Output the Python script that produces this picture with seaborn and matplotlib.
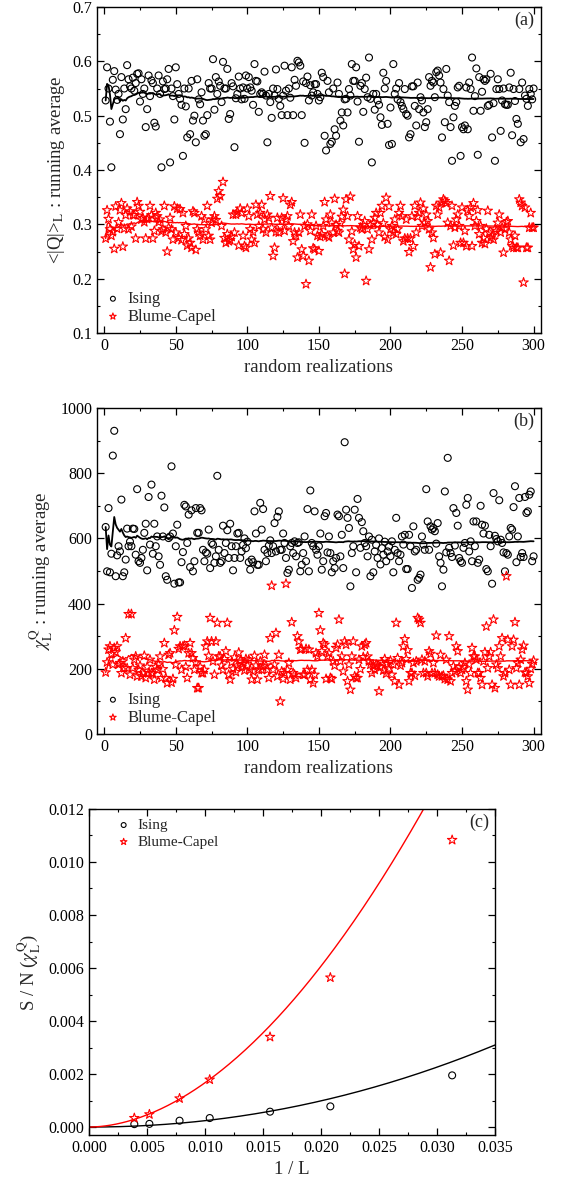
import numpy as np
import matplotlib
matplotlib.use("Agg")
import matplotlib.pyplot as plt
from matplotlib.ticker import MultipleLocator, FormatStrFormatter
import seaborn as sns

# panel (a): <|Q|>_L per random realization
ising_q = [
    0.528, 0.589, 0.55, 0.489, 0.405, 0.566, 0.582, 0.548, 0.529, 0.54,
    0.466, 0.571, 0.493, 0.550, 0.512, 0.593, 0.567, 0.554, 0.55, 0.570,
    0.546, 0.560, 0.577, 0.578, 0.526, 0.567, 0.54, 0.550, 0.479, 0.512,
    0.574, 0.536, 0.565, 0.56, 0.487, 0.480, 0.550, 0.574, 0.540, 0.405,
    0.563, 0.549, 0.55, 0.567, 0.586, 0.414, 0.550, 0.536, 0.493, 0.589,
    0.558, 0.54, 0.531, 0.520, 0.426, 0.550, 0.517, 0.460, 0.55, 0.466,
    0.564, 0.491, 0.500, 0.451, 0.567, 0.53, 0.521, 0.543, 0.491, 0.463,
    0.466, 0.501, 0.56, 0.550, 0.550, 0.604, 0.511, 0.571, 0.54, 0.563,
    0.555, 0.525, 0.599, 0.55, 0.550, 0.586, 0.494, 0.503, 0.56, 0.554,
    0.442, 0.532, 0.54, 0.572, 0.55, 0.53,
    0.552, 0.531, 0.574, 0.55, 0.571, 0.552, 0.546, 0.520, 0.595, 0.564,
    0.563, 0.507, 0.54, 0.543, 0.540, 0.581, 0.537, 0.451, 0.540, 0.525,
    0.496, 0.55, 0.537, 0.585, 0.549, 0.531, 0.518, 0.501, 0.537, 0.592,
    0.546, 0.501, 0.55, 0.533, 0.589, 0.501, 0.566, 0.555, 0.601, 0.598,
    0.592, 0.501, 0.563, 0.450, 0.56, 0.572, 0.528, 0.556, 0.537, 0.543,
    0.558, 0.558, 0.54, 0.528, 0.534, 0.579, 0.571, 0.463, 0.436, 0.564,
    0.543, 0.448, 0.452, 0.55, 0.475, 0.463, 0.561, 0.540, 0.491, 0.506,
    0.482, 0.53, 0.531, 0.506, 0.549, 0.537, 0.595, 0.564, 0.564, 0.589,
    0.526, 0.452, 0.555, 0.56, 0.507, 0.549, 0.570, 0.534, 0.607, 0.531,
    0.414, 0.54, 0.511, 0.540, 0.528, 0.520, 0.497, 0.483, 0.579, 0.55,
    0.564, 0.485, 0.446, 0.515, 0.448, 0.595, 0.54, 0.55, 0.53, 0.56,
    0.525, 0.518, 0.512, 0.549, 0.503, 0.500, 0.460, 0.466, 0.554, 0.554,
    0.518, 0.482, 0.561, 0.512, 0.534, 0.528, 0.506, 0.479, 0.488, 0.512,
    0.571, 0.555, 0.564, 0.561, 0.534, 0.580, 0.583, 0.574, 0.561, 0.460,
    0.549, 0.488, 0.586, 0.537, 0.525, 0.479, 0.417, 0.497, 0.518, 0.525,
    0.552, 0.555, 0.426, 0.479, 0.475, 0.482, 0.552, 0.475, 0.561, 0.549,
    0.607, 0.509, 0.536, 0.587, 0.428, 0.571, 0.509, 0.544, 0.567, 0.564,
    0.567, 0.518, 0.520, 0.577, 0.460, 0.523, 0.417, 0.549, 0.567, 0.549,
    0.472, 0.528, 0.550, 0.521, 0.520, 0.520, 0.552, 0.579, 0.464, 0.549,
    0.527, 0.494, 0.485, 0.549, 0.451, 0.561, 0.457, 0.537, 0.531, 0.518,
    0.549, 0.54, 0.53, 0.55,
]
bc_q = [
    0.274, 0.326, 0.310, 0.291, 0.279, 0.286, 0.255, 0.333, 0.292, 0.304,
    0.326, 0.339, 0.259, 0.292, 0.317, 0.329, 0.291, 0.324, 0.296, 0.317,
    0.317, 0.274, 0.341, 0.334, 0.323, 0.309, 0.312, 0.304, 0.274, 0.310,
    0.312, 0.334, 0.317, 0.274, 0.288, 0.321, 0.315, 0.304, 0.309, 0.287,
    0.291, 0.334, 0.285, 0.250, 0.294, 0.312, 0.291, 0.272, 0.333, 0.285,
    0.329, 0.275, 0.328, 0.271, 0.321, 0.282, 0.297, 0.261, 0.274, 0.266,
    0.257, 0.324, 0.321, 0.253, 0.291, 0.285, 0.279, 0.315, 0.272, 0.309,
    0.291, 0.334, 0.279, 0.272, 0.303, 0.309, 0.315, 0.308, 0.347, 0.361,
    0.352, 0.297, 0.378, 0.275, 0.266, 0.282, 0.269, 0.271, 0.277, 0.318,
    0.285, 0.318, 0.323, 0.261, 0.329, 0.321, 0.279, 0.260, 0.257,
    0.329, 0.315, 0.291, 0.272, 0.286, 0.266, 0.336, 0.318, 0.297, 0.321,
    0.336, 0.291, 0.309, 0.285, 0.318, 0.312, 0.352, 0.294, 0.242, 0.257,
    0.286, 0.312, 0.285, 0.297, 0.312, 0.348, 0.288, 0.309, 0.315, 0.297,
    0.336, 0.341, 0.269, 0.285, 0.279, 0.239, 0.285, 0.318, 0.254, 0.242,
    0.297, 0.190, 0.300, 0.233, 0.288, 0.318, 0.256, 0.254, 0.297, 0.279,
    0.251, 0.277, 0.282, 0.297, 0.341, 0.309, 0.279, 0.276, 0.318, 0.303,
    0.285, 0.347, 0.299, 0.288, 0.285, 0.302, 0.314, 0.327, 0.209, 0.346,
    0.315, 0.272, 0.351, 0.287, 0.254, 0.263, 0.239, 0.315, 0.260, 0.294,
    0.291, 0.299, 0.306, 0.196, 0.291, 0.254, 0.299, 0.272, 0.303, 0.312,
    0.321, 0.299, 0.285, 0.321, 0.334, 0.302, 0.277, 0.349, 0.272, 0.333,
    0.291, 0.297, 0.285, 0.309, 0.282, 0.291,
    0.321, 0.334, 0.315, 0.269, 0.274, 0.309, 0.274, 0.249, 0.274, 0.315,
    0.260, 0.334, 0.285, 0.314, 0.321, 0.340, 0.297, 0.329, 0.303, 0.318,
    0.306, 0.291, 0.221, 0.285, 0.275, 0.245, 0.334, 0.318, 0.331, 0.248,
    0.340, 0.346, 0.343, 0.339, 0.303, 0.233, 0.297, 0.334, 0.261, 0.294,
    0.309, 0.318, 0.297, 0.266, 0.331, 0.266, 0.288, 0.260, 0.326, 0.315,
    0.331, 0.260, 0.339, 0.297, 0.306, 0.326, 0.282, 0.297, 0.266, 0.275,
    0.264, 0.292, 0.325, 0.285, 0.275, 0.279, 0.272, 0.291, 0.288, 0.303,
    0.318, 0.285, 0.294, 0.248, 0.291, 0.304, 0.306, 0.285, 0.272, 0.260,
    0.257, 0.279, 0.257, 0.257, 0.346, 0.340, 0.334, 0.193, 0.331, 0.257,
    0.257, 0.294, 0.321, 0.294, 0.294,
]

# panel (b): chi_L^Q per random realization
ising_chi = [
    635, 499, 693, 496, 553, 854, 930, 484, 548, 576,
    560, 719, 484, 496, 535, 630, 576, 590, 576, 630,
    629, 550, 751, 530, 525, 540, 565, 617, 645, 502,
    727, 581, 765, 553, 645, 576, 606, 545, 519, 731,
    606, 695, 484, 473, 601, 606, 821, 615, 461, 576,
    642, 465, 465, 527, 558, 703, 698, 586, 673, 512,
    686, 499, 530, 693, 617, 617, 693, 686, 565, 530,
    557, 553, 627, 509, 586, 581, 525, 545, 792, 565,
    525, 530, 639, 555, 586, 625, 540, 645, 576, 502,
    540, 576, 615, 617, 540, 560, 580, 600, 570, 590,
    527, 504, 535, 527, 683, 615, 519, 519, 709, 627,
    690, 565, 530, 555, 578, 594, 555, 576, 647, 560,
    666, 683, 565, 565, 615, 586, 540, 494, 504, 576,
    586, 555, 591, 545, 586, 588, 499, 519, 555, 606,
    530, 690, 499, 747, 586, 576, 683, 565, 550, 576,
    615, 504, 530, 668, 678, 557, 606, 555, 496, 530,
    509, 540, 673, 668, 545, 611, 509, 895, 688, 663,
    632, 453, 555, 576, 688, 496, 721, 663, 571, 650,
    622, 586, 576, 545, 606, 484, 596, 496, 560, 580,
    540, 600, 520, 570, 550, 590, 530, 560, 575, 545,
    591, 496, 565, 663, 555, 530, 550, 606, 581, 611,
    506, 506, 611, 576, 448, 637, 560, 565, 473, 479,
    489, 606, 581, 565, 751, 652, 565, 637, 627, 632,
    622, 584, 647, 545, 525, 453, 504, 744, 557, 847,
    571, 555, 543, 693, 578, 678, 639, 540, 530, 525,
    571, 586, 703, 724, 560, 591, 530, 652, 576, 652,
    525, 535, 700, 642, 615, 639, 506, 499, 611, 576,
    461, 739, 608, 598, 591, 717, 596, 586, 557, 499,
    555, 550, 606, 632, 627, 696, 760, 527, 606, 724,
    543, 555, 543, 727, 678, 683, 734, 744, 530, 545,
]
bc_chi = [
    189, 220, 259, 269, 246, 213, 264, 251, 269, 213,
    218, 187, 223, 202, 294, 202, 368, 182, 368, 202,
    228, 238, 177, 197, 210, 177, 187, 240, 172, 206,
    187, 228, 187, 185, 167, 206, 197, 213, 238, 172,
    199, 279, 172, 156, 243, 248, 158, 169, 318, 213,
    359, 261, 269, 197, 269, 271, 206, 172, 248, 279,
    248, 233, 197, 220, 141, 141, 206, 187, 187, 197,
    269, 284, 240, 356, 284, 223, 182, 284, 341, 238,
    238, 210, 197, 230, 254, 341, 182, 167, 220, 200,
    235, 190, 210, 250, 225, 205, 215, 195, 230, 210,
    228, 197, 167, 192, 240, 210, 167, 197, 223, 197,
    208, 243, 210, 197, 172, 294, 455, 197, 213, 310,
    177, 243, 100, 192, 169, 187, 461, 197, 218, 167,
    343, 187, 182, 172, 300, 284, 259, 261, 182, 182,
    261, 197, 259, 167, 197, 156, 182, 248, 238, 371,
    318, 254, 279, 274, 169, 238, 248, 172, 169, 223,
    210, 264, 274, 351, 223, 238, 192, 284, 274, 162,
    213, 136, 238, 284, 177, 172, 172, 228, 199, 269,
    236, 274, 279, 238, 223, 213, 187, 210, 197, 213,
    208, 131, 205, 220, 195, 230, 185, 215, 200, 225,
    182, 213, 162, 341, 233, 151, 210, 218, 269, 291,
    230, 257, 162, 187, 187, 218, 179, 223, 356, 351,
    341, 228, 187, 223, 187, 177, 254, 246, 187, 218,
    187, 302, 182, 177, 243, 177, 179, 169, 228, 167,
    300, 162, 187, 208, 192, 269, 254, 205, 187, 197,
    206, 218, 162, 136, 213, 187, 264, 238, 238, 228,
    187, 187, 172, 151, 223, 251, 330, 202, 238, 251,
    151, 351, 141, 213, 202, 269, 238, 294, 177, 187,
    484, 289, 197, 151, 269, 289, 343, 202, 218, 151,
    228, 259, 271, 189, 187, 177, 156, 200, 215, 225,
]

# panel (c): signal-to-noise ratio vs 1/L
inv_L = [0.0039, 0.0052, 0.0078, 0.0104, 0.0156, 0.0208, 0.0313]
sn_ising = [0.00011, 0.00012, 0.00024, 0.00034, 0.00058, 0.00078, 0.00195]
sn_bc = [0.00034, 0.00048, 0.00108, 0.00179, 0.0034, 0.00564, 0.01083]
# power-law fits  a * (1/L)^b
fit_ising = (2.89, 2.04)
fit_bc = (8.78, 1.86)

sns.set_style("ticks")
plt.rcParams["font.family"] = ["Liberation Serif", "DejaVu Serif"]
plt.rcParams["mathtext.fontset"] = "stix"

fig = plt.figure(figsize=(5.71, 11.86), dpi=100)
ax_a = fig.add_axes([0.170, 0.7192, 0.777, 0.2749])
ax_b = fig.add_axes([0.170, 0.3811, 0.777, 0.2749])
ax_c = fig.add_axes([0.156, 0.0430, 0.711, 0.2749])

circ = dict(marker="o", s=25, facecolor="none", edgecolor="black", linewidth=0.8)
star = dict(marker="*", s=50, facecolor="none", edgecolor="red", linewidth=0.8)


def running(vals):
    v = np.asarray(vals, dtype=float)
    return np.cumsum(v) / np.arange(1, len(v) + 1)


def style_axes(ax):
    ax.tick_params(which="both", direction="in", top=True, right=True,
                   labelsize=11.5, colors="black")
    ax.tick_params(which="major", length=5, width=0.9)
    ax.tick_params(which="minor", length=2.5, width=0.8)
    for s in ax.spines.values():
        s.set_visible(True)
        s.set_linewidth(1.0)
        s.set_color("black")


for ax, ising, bc in [(ax_a, ising_q, bc_q), (ax_b, ising_chi, bc_chi)]:
    xi = np.arange(1, len(ising) + 1)
    xb = np.arange(1, len(bc) + 1)
    sns.scatterplot(x=xi, y=ising, ax=ax, label="Ising", **circ)
    sns.scatterplot(x=xb, y=bc, ax=ax, label="Blume-Capel", **star)
    sns.lineplot(x=xi, y=running(ising), ax=ax, color="black", lw=1.3,
                 estimator=None, sort=False, legend=False)
    sns.lineplot(x=xb, y=running(bc), ax=ax, color="red", lw=1.0,
                 estimator=None, sort=False, legend=False)
    ax.set_xlim(-5, 305)
    ax.xaxis.set_major_locator(MultipleLocator(50))
    ax.xaxis.set_minor_locator(MultipleLocator(25))
    ax.set_xlabel("random realizations", fontsize=13.5)
    ax.legend(loc="lower left", bbox_to_anchor=(0.0, 0.01), frameon=False,
              fontsize=12, handletextpad=0.2, handlelength=1.3,
              labelspacing=0.1, borderaxespad=0.0, borderpad=0.3,
              markerscale=0.7)
    style_axes(ax)

ax_a.set_ylim(0.1, 0.7)
ax_a.yaxis.set_major_locator(MultipleLocator(0.1))
ax_a.yaxis.set_minor_locator(MultipleLocator(0.05))
ax_a.yaxis.set_major_formatter(FormatStrFormatter("%.1f"))
ax_a.set_ylabel(r"<|Q|>$_{\mathrm{L}}$ : running average", fontsize=13.5)
ax_a.text(0.985, 0.985, "(a)", transform=ax_a.transAxes, ha="right", va="top",
          fontsize=13)

ax_b.set_ylim(0, 1000)
ax_b.yaxis.set_major_locator(MultipleLocator(200))
ax_b.yaxis.set_minor_locator(MultipleLocator(100))
ax_b.set_ylabel(r"$\chi_{\mathrm{L}}^{\mathrm{Q}}$ : running average", fontsize=13.5)
ax_b.text(0.985, 0.985, "(b)", transform=ax_b.transAxes, ha="right", va="top",
          fontsize=13)

# panel (c)
sns.scatterplot(x=inv_L, y=sn_ising, ax=ax_c, label="Ising", **circ)
sns.scatterplot(x=inv_L, y=sn_bc, ax=ax_c, label="Blume-Capel", **star)
xf = np.linspace(0, 0.035, 300)
sns.lineplot(x=xf, y=fit_ising[0] * xf ** fit_ising[1], ax=ax_c, color="black",
             lw=1.0, estimator=None, sort=False, legend=False)
sns.lineplot(x=xf, y=fit_bc[0] * xf ** fit_bc[1], ax=ax_c, color="red",
             lw=1.0, estimator=None, sort=False, legend=False)
ax_c.set_xlim(0, 0.035)
ax_c.set_ylim(-0.0003, 0.012)
ax_c.xaxis.set_major_locator(MultipleLocator(0.005))
ax_c.xaxis.set_minor_locator(MultipleLocator(0.0025))
ax_c.yaxis.set_major_locator(MultipleLocator(0.002))
ax_c.yaxis.set_minor_locator(MultipleLocator(0.001))
ax_c.xaxis.set_major_formatter(FormatStrFormatter("%.3f"))
ax_c.yaxis.set_major_formatter(FormatStrFormatter("%.3f"))
ax_c.set_xlabel("1 / L", fontsize=13.5)
ax_c.set_ylabel(r"S / N ($\chi_{\mathrm{L}}^{\mathrm{Q}}$)", fontsize=13.5)
ax_c.legend(loc="upper left", bbox_to_anchor=(0.04, 0.99), frameon=False,
            fontsize=11, handletextpad=0.1, handlelength=1.6,
            labelspacing=0.2, borderaxespad=0.0, borderpad=0.4,
            markerscale=0.7)
ax_c.text(0.985, 0.985, "(c)", transform=ax_c.transAxes, ha="right", va="top",
          fontsize=13)
style_axes(ax_c)

fig.savefig("out.png", dpi=100)
